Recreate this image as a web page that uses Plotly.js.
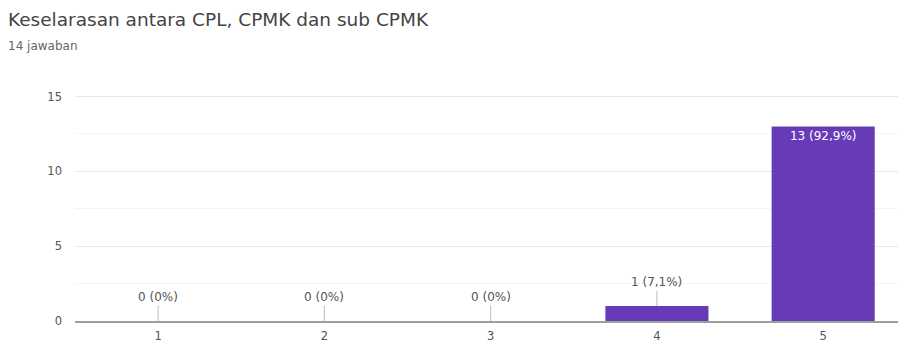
<!DOCTYPE html>
<html><head><meta charset="utf-8">
<script src="https://cdn.plot.ly/plotly-3.0.1.min.js"></script>
<style>html,body{margin:0;padding:0;background:#fff}#c{width:898px;height:349px}</style>
</head><body><div id="c"></div>
<script>
const categories = ["1","2","3","4","5"];
const counts = [0, 0, 0, 1, 13];
const valueLabels = ["0 (0%)", "0 (0%)", "0 (0%)", "1 (7,1%)", "13 (92,9%)"];
const titleText = "Keselarasan antara CPL, CPMK dan sub CPMK";
const subtitleText = "14 jawaban";

const FONT = 'DejaVu Sans, sans-serif';
const annotations = [];
counts.forEach((v,i)=>{
  if (v < 3) {
    annotations.push({x: i, y: v, xref:'x', yref:'y', text: valueLabels[i],
      showarrow:true, arrowhead:0, arrowwidth:1, arrowcolor:'#bdbdbd', ax:0, ay:-24, standoff:0,
      font:{family:FONT, size:12, color:'#555'}});
  }
});

const trace = {
  type:'bar', x: categories, y: counts,
  text: counts.map((v,i)=> v >= 3 ? valueLabels[i] : ''),
  textposition:'inside', insidetextanchor:'end', textangle:0,
  textfont:{family:FONT, size:12, color:'#ffffff'},
  marker:{color:'#673ab7'}, width:0.62, hoverinfo:'none', cliponaxis:false
};

const layout = {
  width:898, height:349, margin:{l:75, r:0, t:91.5, b:28},
  paper_bgcolor:'#fff', plot_bgcolor:'#fff', showlegend:false,
  font:{family:FONT, color:'#555'},
  xaxis:{type:'category', range:[-0.5, 4.45], showgrid:false, zeroline:false,
    showline:true, linecolor:'#9e9e9e', linewidth:2,
    ticks:'outside', ticklen:0, ticklabelstandoff:3, tickfont:{size:11.5, color:'#555'}, fixedrange:true},
  yaxis:{range:[0,15.3], dtick:5, tick0:0, showgrid:true, gridcolor:'#e8e8e8', gridwidth:1,
    zeroline:false, showline:false, ticks:'', tickfont:{size:11.5, color:'#555'},
    ticklabelstandoff:12,
    minor:{dtick:2.5, showgrid:true, gridcolor:'#f4f4f4', gridwidth:1}, fixedrange:true},
  annotations: annotations.concat([
    {xref:'paper', yref:'paper', x:-69/823, xanchor:'left', y:1+ (91.5-19)/229.5, yanchor:'middle',
     text:titleText, showarrow:false, font:{family:FONT, size:18.5, color:'#444'}},
    {xref:'paper', yref:'paper', x:-69/823, xanchor:'left', y:1+ (91.5-45)/229.5, yanchor:'middle',
     text:subtitleText, showarrow:false, font:{family:FONT, size:12, color:'#666'}}
  ])
};
Plotly.newPlot('c', [trace], layout, {displayModeBar:false, staticPlot:true});
</script></body></html>
